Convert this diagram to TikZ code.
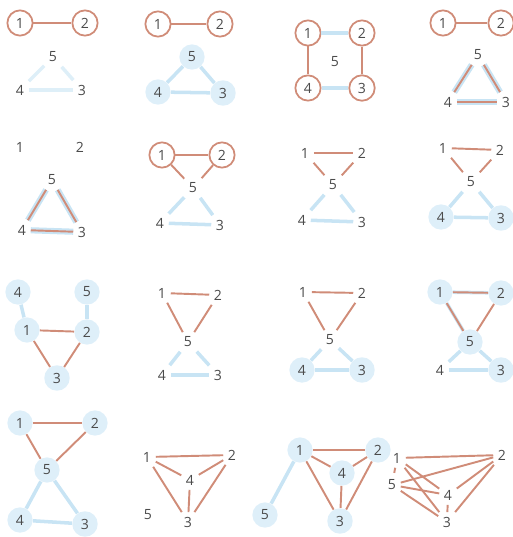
\documentclass[tikz,border=0pt]{standalone}
\usepackage{fontspec}
\newfontfamily\numfont{Open Sans}
\usepackage{xcolor}
\usetikzlibrary{positioning}
\definecolor{edgered}{RGB}{208,140,120}
\definecolor{edgeblue}{RGB}{200,228,244}
\definecolor{halo}{RGB}{222,239,249}
\definecolor{labgray}{RGB}{75,75,75}

\begin{document}
\begin{tikzpicture}[x=0.02cm, y=-0.02cm,
    lbl/.style={font=\numfont\fontsize{8}{9}\selectfont, text=labgray, inner sep=2.5pt},
    ring/.style={lbl, circle, draw=edgered, line width=1pt, minimum size=0.44cm},
    glow/.style={lbl, circle, fill=halo, minimum size=0.36cm},
    redge/.style={draw=edgered, line width=1.1pt},
    bedge/.style={draw=edgeblue, line width=2pt}]
    			% Page size (pixels of the reference)
    			\useasboundingbox (0,0) rectangle (513,537);
    			
    			% Panel 1
    			\foreach \n/\x/\y in {1/20/23, 2/85/23} \node[ring] (a\n) at (\x,\y) {\n};
    			\foreach \n/\x/\y in {5/53/57, 4/20/90, 3/82/90} \node[lbl] (a\n) at (\x,\y) {\n};
    			\draw[redge] (a1) -- (a2);
    			\foreach \u/\v in {5/4, 5/3, 4/3} \draw[bedge, draw opacity=0.6] (a\u) -- (a\v);
    			
    			% Panel 2
    			\foreach \n/\x/\y in {1/158/24, 2/220/24} \node[ring] (b\n) at (\x,\y) {\n};
    			\foreach \n/\x/\y in {5/192/57, 4/158/92, 3/223/93} \node[glow] (b\n) at (\x,\y) {\n};
    			\draw[redge] (b1) -- (b2);
    			\foreach \u/\v in {5/4, 5/3, 4/3} \draw[bedge] (b\u) -- (b\v);
    			
    			% Panel 3
    			\foreach \n/\x/\y in {1/308/33, 2/362/33, 4/308/88, 3/362/88} \node[ring] (c\n) at (\x,\y) {\n};
    			\node[lbl] (c5) at (335,62) {5};
    			\foreach \u/\v in {1/2, 4/3} \draw[bedge] (c\u) -- (c\v);
    			\foreach \u/\v in {1/4, 2/3} \draw[redge] (c\u) -- (c\v);
    			
    			% Panel 4
    			\foreach \n/\x/\y in {1/443/23, 2/501/23} \node[ring] (d\n) at (\x,\y) {\n};
    			\foreach \n/\x/\y in {5/478/55, 4/448/102, 3/506/102} \node[lbl] (d\n) at (\x,\y) {\n};
    			\draw[redge] (d1) -- (d2);
    			\foreach \u/\v in {5/4, 5/3, 4/3} {
    				\draw[bedge, line width=3.5pt] (d\u) -- (d\v);
    				\draw[redge] (d\u) -- (d\v);
    			}
    			
    			% Panel 5
    			\foreach \n/\x/\y in {1/20/147, 2/80/147, 5/52/180, 4/22/230, 3/82/232} \node[lbl] (e\n) at (\x,\y) {\n};
    			\foreach \u/\v in {5/4, 5/3, 4/3} {
    				\draw[bedge, line width=3.5pt] (e\u) -- (e\v);
    				\draw[redge] (e\u) -- (e\v);
    			}
    			
    			% Panel 6
    			\foreach \n/\x/\y in {1/162/155, 2/222/155} \node[ring] (f\n) at (\x,\y) {\n};
    			\foreach \n/\x/\y in {5/193/188, 4/160/223, 3/220/225} \node[lbl] (f\n) at (\x,\y) {\n};
    			\foreach \u/\v in {1/2, 1/5, 2/5} \draw[redge] (f\u) -- (f\v);
    			\foreach \u/\v in {5/4, 5/3, 4/3} \draw[bedge] (f\u) -- (f\v);
    			
    			% Panel 7
    			\foreach \n/\x/\y in {1/305/153, 2/362/153, 5/333/185, 4/302/220, 3/362/222} \node[lbl] (g\n) at (\x,\y) {\n};
    			\foreach \u/\v in {1/2, 1/5, 2/5} \draw[redge] (g\u) -- (g\v);
    			\foreach \u/\v in {5/4, 5/3, 4/3} \draw[bedge] (g\u) -- (g\v);
    			
    			% Panel 8
    			\foreach \n/\x/\y in {1/443/148, 2/500/150, 5/471/182} \node[lbl] (h\n) at (\x,\y) {\n};
    			\foreach \n/\x/\y in {4/441/217, 3/501/218} \node[glow] (h\n) at (\x,\y) {\n};
    			\foreach \u/\v in {1/2, 1/5, 2/5} \draw[redge] (h\u) -- (h\v);
    			\foreach \u/\v in {5/4, 5/3, 4/3} \draw[bedge] (h\u) -- (h\v);
    			
    			% Panel 9
    			\foreach \n/\x/\y in {4/18/292, 5/87/292, 1/27/330, 2/87/332, 3/57/378} \node[glow] (i\n) at (\x,\y) {\n};
    			\foreach \u/\v in {4/1, 5/2} \draw[bedge] (i\u) -- (i\v);
    			\foreach \u/\v in {1/2, 1/3, 2/3} \draw[redge] (i\u) -- (i\v);
    			
    			% Panel 10
    			\foreach \n/\x/\y in {1/162/293, 2/218/295, 5/188/342, 4/162/375, 3/218/375} \node[lbl] (j\n) at (\x,\y) {\n};
    			\foreach \u/\v in {1/2, 1/5, 2/5} \draw[redge] (j\u) -- (j\v);
    			\foreach \u/\v in {5/4, 5/3, 4/3} \draw[bedge] (j\u) -- (j\v);
    			
    			% Panel 11
    			\foreach \n/\x/\y in {1/303/292, 2/362/293, 5/330/340} \node[lbl] (k\n) at (\x,\y) {\n};
    			\foreach \n/\x/\y in {4/302/370, 3/362/370} \node[glow] (k\n) at (\x,\y) {\n};
    			\foreach \u/\v in {1/2, 1/5, 2/5} \draw[redge] (k\u) -- (k\v);
    			\foreach \u/\v in {5/4, 5/3, 4/3} \draw[bedge] (k\u) -- (k\v);
    			
    			% Panel 12
    			\foreach \n/\x/\y in {1/440/292, 2/501/293, 5/470/342, 3/501/370} \node[glow] (l\n) at (\x,\y) {\n};
    			\node[lbl] (l4) at (440,370) {4};
    			\foreach \u/\v in {5/4, 5/3, 4/3, 1/5, 1/2} \draw[bedge] (l\u) -- (l\v);
    			\foreach \u/\v in {1/2, 1/5, 2/5} \draw[redge] (l\u) -- (l\v);
    			
    			% Panel 13
    			\foreach \n/\x/\y in {1/20/423, 2/95/423, 5/47/470, 4/20/520, 3/85/524} \node[glow] (m\n) at (\x,\y) {\n};
    			\foreach \u/\v in {5/4, 5/3, 4/3} \draw[bedge] (m\u) -- (m\v);
    			\foreach \u/\v in {1/2, 1/5, 2/5} \draw[redge] (m\u) -- (m\v);
    			
    			% Panel 14
    			\foreach \n/\x/\y in {1/147/457, 2/232/455, 4/190/480, 5/148/515, 3/188/522} \node[lbl] (n\n) at (\x,\y) {\n};
    			\foreach \u/\v in {1/2, 1/4, 2/4, 1/3, 2/3, 4/3} \draw[redge] (n\u) -- (n\v);
    			
    			% Panel 15
    			\foreach \n/\x/\y in {1/300/450, 2/378/450, 4/342/473, 3/340/521, 5/265/515} \node[glow] (o\n) at (\x,\y) {\n};
    			\draw[bedge] (o5) -- (o1);
    			\foreach \u/\v in {1/2, 1/4, 2/4, 1/3, 2/3, 4/3} \draw[redge] (o\u) -- (o\v);
    			
    			% Panel 16
    			\foreach \n/\x/\y in {1/397/458, 2/502/455, 5/392/485, 4/448/495, 3/447/522} \node[lbl] (q\n) at (\x,\y) {\n};
    			\foreach \u/\v in {1/2, 1/4, 1/3, 5/2, 5/4, 5/3, 2/4, 2/3, 4/3} \draw[redge] (q\u) -- (q\v);
    			\draw[redge, dashed] (q1) -- (q5);
    		\end{tikzpicture}
\end{document}
